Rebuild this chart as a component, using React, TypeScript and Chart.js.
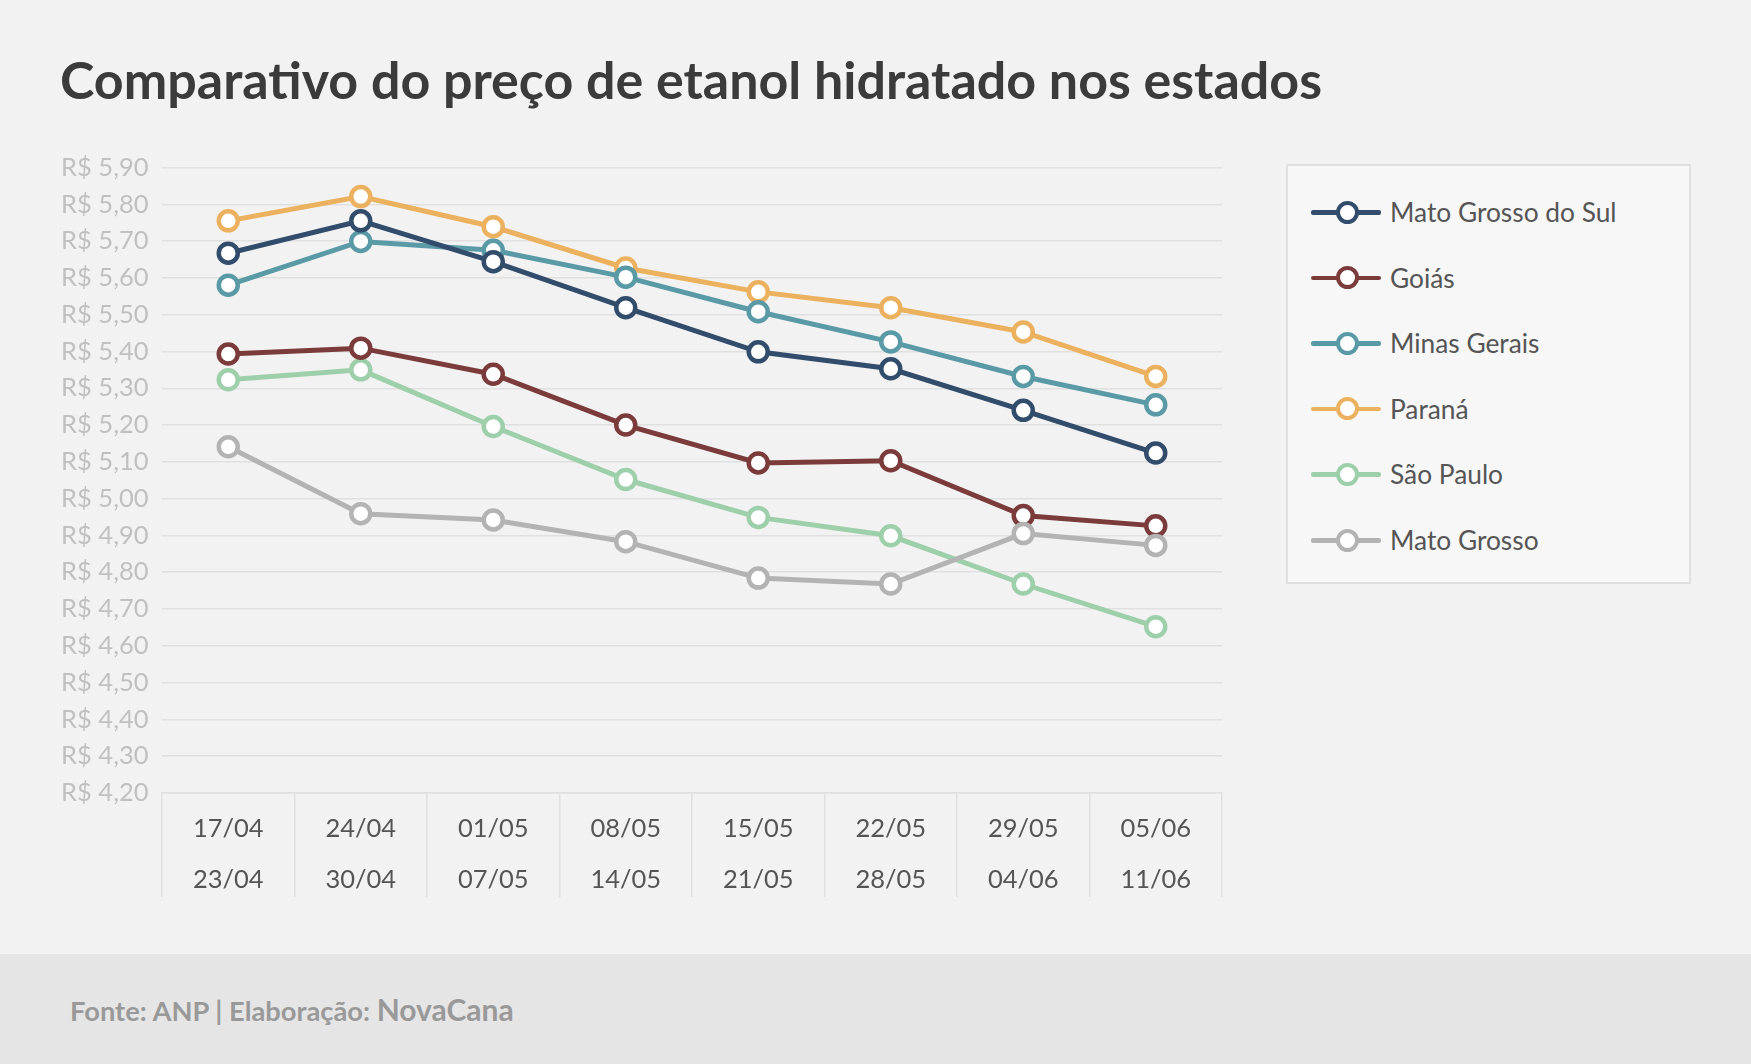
import React, { useEffect, useRef } from 'react';
import { Chart, registerables } from 'chart.js';

Chart.register(...registerables);

// ---------- data ----------
const categories: string[][] = [
  ['17/04', '23/04'],
  ['24/04', '30/04'],
  ['01/05', '07/05'],
  ['08/05', '14/05'],
  ['15/05', '21/05'],
  ['22/05', '28/05'],
  ['29/05', '04/06'],
  ['05/06', '11/06'],
];

const yTickValues = [4.2, 4.3, 4.4, 4.5, 4.6, 4.7, 4.8, 4.9, 5.0, 5.1, 5.2, 5.3, 5.4, 5.5, 5.6, 5.7, 5.8, 5.9];

const seriesNames = ['Mato Grosso do Sul', 'Goiás', 'Minas Gerais', 'Paraná', 'São Paulo', 'Mato Grosso'];

const matoGrossoDoSul = [5.667, 5.755, 5.644, 5.519, 5.399, 5.353, 5.24, 5.124];
const goias = [5.393, 5.409, 5.338, 5.2, 5.097, 5.103, 4.954, 4.926];
const minasGerais = [5.58, 5.699, 5.675, 5.602, 5.508, 5.426, 5.332, 5.255];
const parana = [5.755, 5.821, 5.739, 5.627, 5.562, 5.519, 5.453, 5.332];
const saoPaulo = [5.323, 5.35, 5.196, 5.052, 4.949, 4.899, 4.768, 4.652];
const matoGrosso = [5.141, 4.959, 4.942, 4.883, 4.784, 4.768, 4.905, 4.873];

const seriesValues = [matoGrossoDoSul, goias, minasGerais, parana, saoPaulo, matoGrosso];

// ---------- styles ----------
const seriesColors = ['#324c6c', '#7b3b3b', '#5a9aa7', '#ecb15f', '#9ecfab', '#b3b3b3'];
const seriesDrawOrder = [1, 4, 2, 3, 5, 0]; // lower = drawn on top

const W = 1751;
const H = 1064;
const CANVAS_H = 955;

export default function App() {
  const canvasRef = useRef<HTMLCanvasElement | null>(null);

  useEffect(() => {
    const canvas = canvasRef.current;
    if (!canvas) return;
    const chart = new Chart(canvas, {
      type: 'line',
      data: {
        labels: categories,
        datasets: seriesNames.map((name, i) => ({
          label: name,
          data: seriesValues[i],
          borderColor: seriesColors[i],
          backgroundColor: seriesColors[i],
          borderWidth: 5,
          pointRadius: 9.5,
          pointBorderWidth: 4.5,
          pointBackgroundColor: '#ffffff',
          pointBorderColor: seriesColors[i],
          tension: 0,
          fill: false,
          order: seriesDrawOrder[i],
        })),
      },
      options: {
        responsive: false,
        animation: false,
        devicePixelRatio: 1,
        layout: { padding: { left: 0, top: 167.5, right: W - 1222, bottom: CANVAS_H - 793 - 104 } },
        plugins: {
          legend: { display: false },
          tooltip: { enabled: false },
          title: { display: false },
        },
        scales: {
          x: {
            type: 'category',
            offset: true,
            grid: {
              offset: true,
              drawOnChartArea: false,
              drawTicks: true,
              tickLength: 104,
              color: '#e0e0e0',
              tickColor: '#e0e0e0',
              lineWidth: 1.5,
            },
            border: { display: true, color: '#e0e0e0', width: 1.5 },
            ticks: {
              padding: -93.5,
              color: '#555555',
              font: { family: 'Lato', size: 25.5, lineHeight: 2.0 },
              maxRotation: 0,
              minRotation: 0,
              autoSkip: false,
            },
            afterFit: (s: any) => {
              s.height = 104;
            },
          },
          y: {
            type: 'linear',
            min: 4.2,
            max: 5.9,
            grid: { color: '#e0e0e0', drawTicks: false, lineWidth: 1.5 },
            border: { display: false },
            afterBuildTicks: (s: any) => {
              s.ticks = yTickValues.map((v) => ({ value: v }));
            },
            ticks: {
              padding: 13.5,
              color: '#c0c0c0',
              font: { family: 'Lato', size: 25.5 },
              callback: (v: any) => 'R$ ' + Number(v).toFixed(2).replace('.', ','),
            },
            afterFit: (s: any) => {
              s.width = 162;
            },
          },
        },
      },
    });
    return () => chart.destroy();
  }, []);

  const legendRowTop = 210 - 164;
  const legendRowGap = 65.6;

  return (
    <div
      style={{
        position: 'absolute',
        left: 0,
        top: 0,
        width: W,
        height: H,
        background: '#f2f2f2',
        overflow: 'hidden',
        fontFamily: 'Lato, sans-serif',
      }}
    >
      <div
        style={{
          position: 'absolute',
          left: 60,
          top: 49,
          fontSize: 52,
          lineHeight: '60px',
          fontWeight: 700,
          color: '#3b3b3b',
          whiteSpace: 'nowrap',
        }}
      >
        Comparativo do preço de etanol hidratado nos estados
      </div>

      <canvas
        ref={canvasRef}
        width={W}
        height={CANVAS_H}
        style={{ position: 'absolute', left: 0, top: 0, width: W, height: CANVAS_H }}
      />

      <div
        style={{
          position: 'absolute',
          left: 1286,
          top: 164,
          width: 405,
          height: 420,
          boxSizing: 'border-box',
          border: '2px solid #e0e0e0',
          background: '#f7f7f7',
        }}
      >
        {seriesNames.map((name, i) => (
          <div
            key={name}
            style={{
              position: 'absolute',
              left: 0,
              top: legendRowTop + i * legendRowGap - 20,
              height: 40,
              width: '100%',
            }}
          >
            <div
              style={{
                position: 'absolute',
                left: 1311 - 1288,
                top: 18,
                width: 70,
                height: 4.5,
                borderRadius: 2,
                background: seriesColors[i],
              }}
            />
            <div
              style={{
                position: 'absolute',
                left: 1347 - 1288 - 11.5,
                top: 8.5,
                width: 23,
                height: 23,
                boxSizing: 'border-box',
                borderRadius: '50%',
                border: '4.5px solid ' + seriesColors[i],
                background: '#ffffff',
              }}
            />
            <div
              style={{
                position: 'absolute',
                left: 1390 - 1288,
                top: 0,
                height: 40,
                lineHeight: '40px',
                fontSize: 26.3,
                color: '#555555',
                whiteSpace: 'nowrap',
              }}
            >
              {name}
            </div>
          </div>
        ))}
      </div>

      <div
        style={{
          position: 'absolute',
          left: 0,
          top: 954,
          width: W,
          height: H - 954,
          background: '#e5e5e5',
        }}
      >
        <div
          style={{
            position: 'absolute',
            left: 70,
            top: 35,
            lineHeight: '40px',
            color: '#999999',
            fontWeight: 700,
            whiteSpace: 'nowrap',
          }}
        >
          <span style={{ fontSize: 27.3 }}>Fonte: ANP | Elaboração: </span>
          <span style={{ fontSize: 30 }}>NovaCana</span>
        </div>
      </div>
    </div>
  );
}
